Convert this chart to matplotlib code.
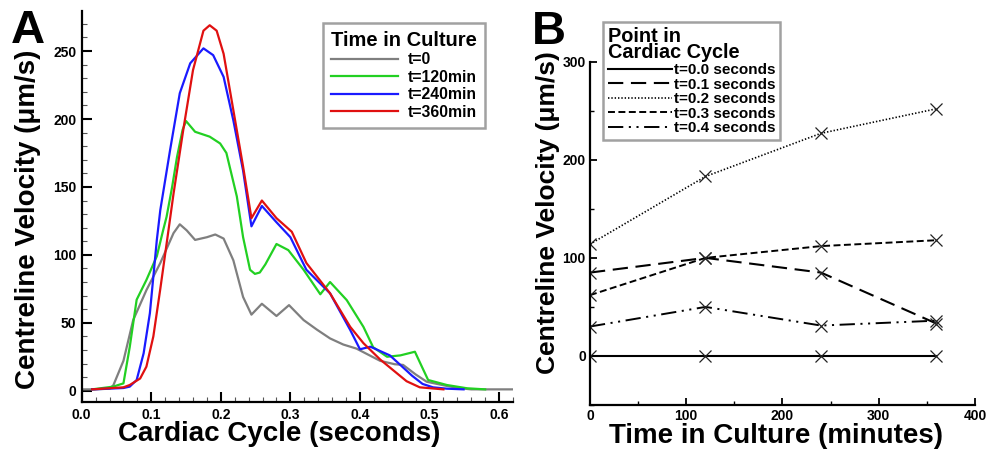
import matplotlib
matplotlib.use("Agg")
import matplotlib.pyplot as plt
from matplotlib.ticker import MultipleLocator

plt.rcParams['font.family'] = ['Liberation Sans', 'DejaVu Sans']
plt.rcParams['font.weight'] = 'bold'
plt.rcParams['lines.scale_dashes'] = False

# ---------------- Panel A data ----------------
t0_x = [0.0, 0.02, 0.04, 0.0455, 0.06, 0.074, 0.093, 0.113, 0.132, 0.141, 0.151, 0.163, 0.18,
        0.192, 0.204, 0.218, 0.232, 0.244, 0.259, 0.28, 0.298, 0.319, 0.338, 0.357, 0.376,
        0.395, 0.429, 0.45, 0.462, 0.48, 0.496, 0.525, 0.544, 0.56, 0.62]
t0_y = [1, 1, 1.5, 4, 22, 52, 74, 94, 116, 122.5, 118, 111, 113, 115, 112, 96, 69, 56, 64, 55,
        63, 52, 45, 38.5, 34, 31, 22, 19.5, 19, 12, 6.6, 3.5, 1.8, 1, 1]

t120_x = [0.015, 0.045, 0.06, 0.069, 0.079, 0.093, 0.108, 0.117, 0.122, 0.13, 0.137, 0.145, 0.15,
          0.163, 0.184, 0.199, 0.208, 0.223, 0.232, 0.242, 0.249, 0.256, 0.264, 0.28, 0.297,
          0.319, 0.343, 0.357, 0.381, 0.405, 0.419, 0.439, 0.458, 0.479, 0.489, 0.498, 0.525,
          0.554, 0.58]
t120_y = [1, 3, 5.4, 32, 67, 81.5, 99, 118, 128, 150, 172, 192, 198.5, 190.6, 187, 182, 175, 143,
          113, 89, 86, 87, 93, 108, 103.5, 89, 71, 80, 66.7, 47, 32, 25, 26, 28.7, 17.7, 7.9,
          4.2, 1.8, 1]

t240_x = [0.015, 0.06, 0.069, 0.079, 0.089, 0.098, 0.108, 0.113, 0.127, 0.141, 0.156, 0.175,
          0.189, 0.204, 0.218, 0.232, 0.244, 0.259, 0.28, 0.3, 0.323, 0.357, 0.386, 0.4, 0.415,
          0.443, 0.458, 0.475, 0.49, 0.505, 0.525, 0.549]
t240_y = [1, 2, 3, 7.9, 27.5, 57, 111, 133, 177, 219, 241, 252, 247, 231, 199, 162, 121, 136,
          124, 113, 89, 71.7, 44.7, 30.5, 32.4, 26, 19, 11, 5, 2.5, 1.5, 1]

t360_x = [0.015, 0.06, 0.069, 0.084, 0.093, 0.103, 0.113, 0.122, 0.132, 0.146, 0.16, 0.175,
          0.184, 0.194, 0.204, 0.218, 0.232, 0.244, 0.259, 0.28, 0.302, 0.323, 0.357, 0.386,
          0.405, 0.429, 0.448, 0.467, 0.486, 0.52]
t360_y = [1, 2.5, 4.2, 9, 17.7, 40, 75, 108, 145, 192, 236, 265, 269, 265, 248, 206.5, 165, 127,
          140, 127, 117, 94, 71.7, 47, 35, 23, 15, 7, 2.5, 1]

a_labels = ['t=0', 't=120min', 't=240min', 't=360min']
a_colors = ['#7f7f7f', '#22d022', '#1a1aff', '#e01010']

# ---------------- Panel B data ----------------
culture_time = [0, 120, 240, 360]
vel_00 = [0, 0, 0, 0]
vel_01 = [85, 100, 85, 33]
vel_02 = [114, 183, 227, 252]
vel_03 = [62, 100, 112, 118]
vel_04 = [30, 50, 31, 36]
b_labels = ['t=0.0 seconds', 't=0.1 seconds', 't=0.2 seconds', 't=0.3 seconds', 't=0.4 seconds']

W, H = 987, 451
fig = plt.figure(figsize=(W / 100, H / 100), dpi=100)

def fx(px):
    return px / W

def fy(py):
    return 1 - py / H

# ---------------- Panel A ----------------
axA = fig.add_axes([fx(81.7), fy(402), (513 - 81.7) / W, (402 - 11) / H])
seriesA = [(t0_x, t0_y), (t120_x, t120_y), (t240_x, t240_y), (t360_x, t360_y)]
for (xs, ys), lab, col in zip(seriesA, a_labels, a_colors):
    axA.plot(xs, ys, color=col, lw=1.6, label=lab, solid_joinstyle='round')
axA.set_xlim(0, 0.62)
axA.set_ylim(-8.3, 279.5)
axA.xaxis.set_major_locator(MultipleLocator(0.1))
axA.xaxis.set_minor_locator(MultipleLocator(0.02))
axA.yaxis.set_major_locator(MultipleLocator(50))
axA.yaxis.set_minor_locator(MultipleLocator(10))
axA.xaxis.set_major_formatter(plt.FuncFormatter(lambda v, p: f"{v:.1f}"))
for s in ['top', 'right']:
    axA.spines[s].set_visible(False)
for s in ['left', 'bottom']:
    axA.spines[s].set_linewidth(1.6)
axA.tick_params(which='major', direction='in', length=7, width=1.5, labelsize=10, pad=4)
axA.tick_params(which='minor', direction='in', length=3.5, width=0.8, color='#555555')
axA.set_xlabel('Cardiac Cycle (seconds)', fontsize=20, fontweight='bold', va='center')
axA.set_ylabel('Centreline Velocity (μm/s)', fontsize=20, fontweight='bold', va='center')
axA.xaxis.set_label_coords(0.458, -0.083)
axA.yaxis.set_label_coords(-0.1246, 0.468)
legA = axA.legend(loc='upper left', bbox_to_anchor=(fx(323), fy(23)), bbox_transform=fig.transFigure,
                  title='Time in Culture', title_fontproperties={'weight': 'bold', 'size': 14.5},
                  prop={'weight': 'bold', 'size': 11.3}, frameon=True, fancybox=False,
                  handlelength=4.27, handletextpad=0.64, labelspacing=0.16, borderpad=0.5,
                  borderaxespad=0)
legA.get_frame().set_edgecolor('#8a8a8a')
legA.get_frame().set_linewidth(1.8)
fig.text(fx(27.5), fy(31), 'A', fontsize=34, fontweight='bold', ha='center', va='center')

# ---------------- Panel B ----------------
axB = fig.add_axes([fx(590), fy(405), (975 - 590) / W, (405 - 61.7) / H])
styles = [dict(ls='-', lw=1.5),
          dict(dashes=(11, 5.5), lw=1.5),
          dict(dashes=(1.0, 1.4), lw=1.2),
          dict(dashes=(5, 2.5), lw=1.4),
          dict(dashes=(11, 4, 1.5, 4, 1.5, 4), lw=1.4)]
handles = []
for ys, lab, st in zip([vel_00, vel_01, vel_02, vel_03, vel_04], b_labels, styles):
    ln, = axB.plot(culture_time, ys, color='black', label=lab, **st)
    axB.plot(culture_time, ys, ls='none', marker='x', ms=9, mew=0.9, color='#222222')
    handles.append(ln)
axB.set_xlim(0, 400)
axB.set_ylim(-50, 300)
axB.xaxis.set_major_locator(MultipleLocator(100))
axB.xaxis.set_minor_locator(MultipleLocator(50))
axB.yaxis.set_major_locator(MultipleLocator(100))
axB.yaxis.set_minor_locator(MultipleLocator(50))
for s in ['top', 'right']:
    axB.spines[s].set_visible(False)
for s in ['left', 'bottom']:
    axB.spines[s].set_linewidth(1.6)
axB.tick_params(which='major', direction='in', length=5, width=1.3, labelsize=10, pad=3)
axB.tick_params(which='minor', direction='in', length=3, width=1.0)
axB.set_xlabel('Time in Culture (minutes)', fontsize=20, fontweight='bold', va='center')
axB.set_ylabel('Centreline Velocity (μm/s)', fontsize=19, fontweight='bold', va='center')
axB.xaxis.set_label_coords(0.483, -0.09)
axB.yaxis.set_label_coords(-0.109, 0.562)
legB = axB.legend(handles=handles, loc='upper left', bbox_to_anchor=(fx(603), fy(22)),
                  bbox_transform=fig.transFigure, title='Point in\nCardiac Cycle',
                  title_fontproperties={'weight': 'bold', 'size': 14.3}, alignment='left',
                  prop={'weight': 'bold', 'size': 11}, frameon=True, fancybox=False,
                  handlelength=4.2, handletextpad=0.13, labelspacing=0.04, borderpad=0.3,
                  borderaxespad=0)
legB.get_frame().set_edgecolor('#8a8a8a')
legB.get_frame().set_linewidth(1.8)
legB.get_title().set_linespacing(0.85)
fig.text(fx(549), fy(32), 'B', fontsize=34, fontweight='bold', ha='center', va='center')

fig.savefig('out.png', dpi=100)
